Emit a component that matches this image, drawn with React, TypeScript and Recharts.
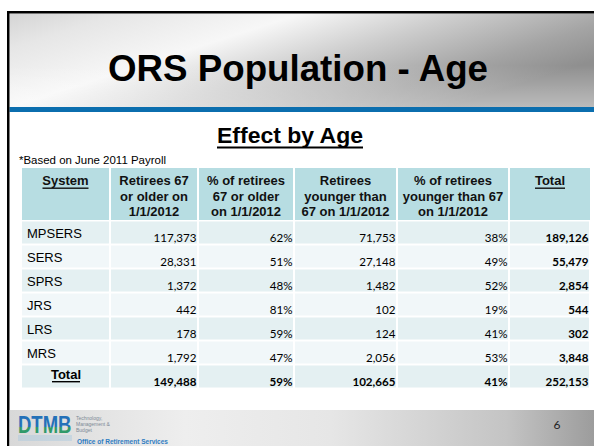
import { BarChart, Bar, XAxis, YAxis } from 'recharts';

// table values
const systems = ['MPSERS', 'SERS', 'SPRS', 'JRS', 'LRS', 'MRS'];
const olderCounts = [117373, 28331, 1372, 442, 178, 1792];
const olderPct = [62, 51, 48, 81, 59, 47];
const youngerCounts = [71753, 27148, 1482, 102, 124, 2056];
const youngerPct = [38, 49, 52, 19, 41, 53];
const totals = [189126, 55479, 2854, 544, 302, 3848];
const totalRow = [149488, 59, 102665, 41, 252153];

const headers = [
  ['System'],
  ['Retirees 67', 'or older on', '1/1/2012'],
  ['% of retirees', '67 or older', 'on 1/1/2012'],
  ['Retirees', 'younger than', '67 on 1/1/2012'],
  ['% of retirees', 'younger than 67', 'on 1/1/2012'],
  ['Total'],
];

// column split of the table, as share of its width
const colFrac = [0, 0.1549, 0.3099, 0.4789, 0.6602, 0.8574, 1];

const ARIAL = '"Liberation Sans", Arial, sans-serif';
const CALIBRI = 'Lato, "Open Sans", sans-serif';
const TEAL = '#b7dde2';

const rows = systems.map((s, i) => ({
  system: s,
  older: olderCounts[i],
  olderPct: olderPct[i],
  younger: youngerCounts[i],
  youngerPct: youngerPct[i],
  total: totals[i],
  span: 1,
  idx: i,
}));
rows.push({
  system: 'Total',
  older: totalRow[0],
  olderPct: totalRow[1],
  younger: totalRow[2],
  youngerPct: totalRow[3],
  total: totalRow[4],
  span: 1,
  idx: systems.length,
});

const fmt = (v: number) => v.toLocaleString('en-US');

const RowShape = (props: any) => {
  const { x, y, width, height, payload } = props;
  const isTotal = payload.system === 'Total';
  const bg = payload.idx % 2 === 0 ? '#e4f0f2' : '#f1f7f9';
  const edges = colFrac.map((f) => x + f * width);
  const vals = [fmt(payload.older), payload.olderPct + '%', fmt(payload.younger), payload.youngerPct + '%', fmt(payload.total)];
  return (
    <g>
      {edges.slice(0, -1).map((e, i) => (
        <rect key={i} x={e + (i === 0 ? 0 : 1)} y={y + 1.5} width={edges[i + 1] - e - (i === 0 ? 1 : 2)} height={height - 2} fill={bg} />
      ))}
      {isTotal ? (
        <g>
          <text x={(edges[0] + edges[1]) / 2} y={y + 15} textAnchor="middle" fontFamily={ARIAL} fontWeight="bold" fontSize={13}>Total</text>
          <rect x={(edges[0] + edges[1]) / 2 - 14} y={y + 17} width={28} height={1.4} fill="#000" />
        </g>
      ) : (
        <text x={edges[0] + 5} y={y + 17.5} fontFamily={ARIAL} fontSize={13}>{payload.system}</text>
      )}
      {vals.map((v, i) => (
        <text
          key={i}
          x={edges[i + 2] - 1.5}
          y={y + 21.5}
          textAnchor="end"
          fontFamily={CALIBRI}
          fontSize={11.6}
          fontWeight={isTotal || i === 4 ? 'bold' : 'normal'}
        >
          {v}
        </text>
      ))}
    </g>
  );
};

const Chrome = () => {
  const tl = 22, tr = 590;
  const edges = colFrac.map((f) => tl + f * (tr - tl));
  return (
    <svg width={594} height={446} style={{ position: 'absolute', left: 0, top: 0 }}>
      <defs>
        <linearGradient id="hdr" x1="0" y1="0" x2="1" y2="0.5">
          <stop offset="0" stopColor="#d4d4d4" />
          <stop offset="0.15" stopColor="#e6e6e6" />
          <stop offset="0.4" stopColor="#f7f7f7" />
          <stop offset="0.62" stopColor="#cdcdcd" />
          <stop offset="0.85" stopColor="#a4a4a4" />
          <stop offset="1" stopColor="#8f8f8f" />
        </linearGradient>
        <linearGradient id="hdrV" x1="0" y1="0" x2="0" y2="1">
          <stop offset="0" stopColor="#fff" stopOpacity="0" />
          <stop offset="0.55" stopColor="#fff" stopOpacity="0" />
          <stop offset="1" stopColor="#fff" stopOpacity="0.4" />
        </linearGradient>
        <linearGradient id="ftr" x1="0" y1="0" x2="1" y2="0">
          <stop offset="0" stopColor="#d8d8d8" />
          <stop offset="0.3" stopColor="#eeeeee" />
          <stop offset="0.55" stopColor="#e6e6e6" />
          <stop offset="0.85" stopColor="#c4c4c4" />
          <stop offset="1" stopColor="#9c9c9c" />
        </linearGradient>
        <linearGradient id="logo" x1="0" y1="0" x2="0" y2="1">
          <stop offset="0" stopColor="#2471b8" />
          <stop offset="0.55" stopColor="#2471b8" />
          <stop offset="0.56" stopColor="#2f9a6a" />
          <stop offset="1" stopColor="#2f9a6a" />
        </linearGradient>
      </defs>
      <rect x={0} y={0} width={594} height={446} fill="#fff" />

      {/* title band */}
      <rect x={9.5} y={13.5} width={585} height={94} fill="url(#hdr)" />
      <rect x={9.5} y={13.5} width={585} height={94} fill="url(#hdrV)" />
      <rect x={9.5} y={107} width={585} height={5} fill="#0b6eae" />
      <text x={298} y={81} textAnchor="middle" fontFamily={ARIAL} fontWeight="bold" fontSize={36.5} textLength={380} lengthAdjust="spacingAndGlyphs">
        ORS Population - Age
      </text>

      {/* slide frame */}
      <rect x={7} y={11} width={2.5} height={435} fill="#000" />
      <rect x={7} y={11} width={587} height={2.5} fill="#000" />

      <text x={290} y={143} textAnchor="middle" fontFamily={ARIAL} fontWeight="bold" fontSize={21.5} textLength={146} lengthAdjust="spacingAndGlyphs">
        Effect by Age
      </text>
      <rect x={217} y={146.5} width={146} height={2} fill="#000" />

      <text x={19} y={164} fontFamily={ARIAL} fontSize={11.3} textLength={147} lengthAdjust="spacingAndGlyphs">
        *Based on June 2011 Payroll
      </text>

      {/* header row */}
      {headers.map((lines, i) => {
        const x0 = edges[i] + (i === 0 ? 0 : 1);
        const x1 = edges[i + 1] - (i === 5 ? 0 : 1);
        const cx = (x0 + x1) / 2;
        const uw = i === 0 ? 46 : 30;
        return (
          <g key={i}>
            <rect x={x0} y={168} width={x1 - x0} height={52} fill={TEAL} />
            {lines.map((t, j) => (
              <text key={j} x={cx} y={185 + j * 15.5} textAnchor="middle" fontFamily={ARIAL} fontWeight="bold" fontSize={13} fill="#111">
                {t}
              </text>
            ))}
            {lines.length === 1 && (
              <rect x={cx - uw / 2} y={187.5} width={uw} height={1.4} fill="#111" />
            )}
          </g>
        );
      })}

      {/* footer */}
      <rect x={9.5} y={410} width={585} height={36} fill="url(#ftr)" />
      <g transform="translate(18,433) scale(1,1.3)">
        <text x={0} y={0} fontFamily={ARIAL} fontWeight="bold" fontSize={18.5} fill="url(#logo)">
          DTMB
        </text>
      </g>
      <rect x={18} y={435} width={54} height={6} fill="#9cc3e0" opacity={0.35} />
      <text x={76} y={420} fontFamily={ARIAL} fontSize={5} fill="#7d8a96">Technology,</text>
      <text x={76} y={426} fontFamily={ARIAL} fontSize={5} fill="#7d8a96">Management &amp;</text>
      <text x={76} y={432} fontFamily={ARIAL} fontSize={5} fill="#7d8a96">Budget</text>
      <text x={77} y={444} fontFamily={ARIAL} fontWeight="bold" fontSize={6.5} fill="#2f7cc2" textLength={91} lengthAdjust="spacingAndGlyphs">
        Office of Retirement Services
      </text>
      <text x={557} y={429} textAnchor="middle" fontFamily={CALIBRI} fontSize={12} fill="#222">6</text>
    </svg>
  );
};

const App = () => {
  return (
    <div style={{ position: 'absolute', left: 0, top: 0, width: 594, height: 446, overflow: 'hidden', background: '#fff' }}>
      <Chrome />
      <div style={{ position: 'absolute', left: 0, top: 0 }}>
        <BarChart
          width={594}
          height={446}
          layout="vertical"
          data={rows}
          margin={{ top: 220, right: 4, bottom: 58, left: 22 }}
          barCategoryGap={0}
        >
          <XAxis type="number" hide domain={[0, 1]} />
          <YAxis type="category" dataKey="system" hide />
          <Bar dataKey="span" isAnimationActive={false} shape={RowShape} />
        </BarChart>
      </div>
    </div>
  );
};

export default App;
